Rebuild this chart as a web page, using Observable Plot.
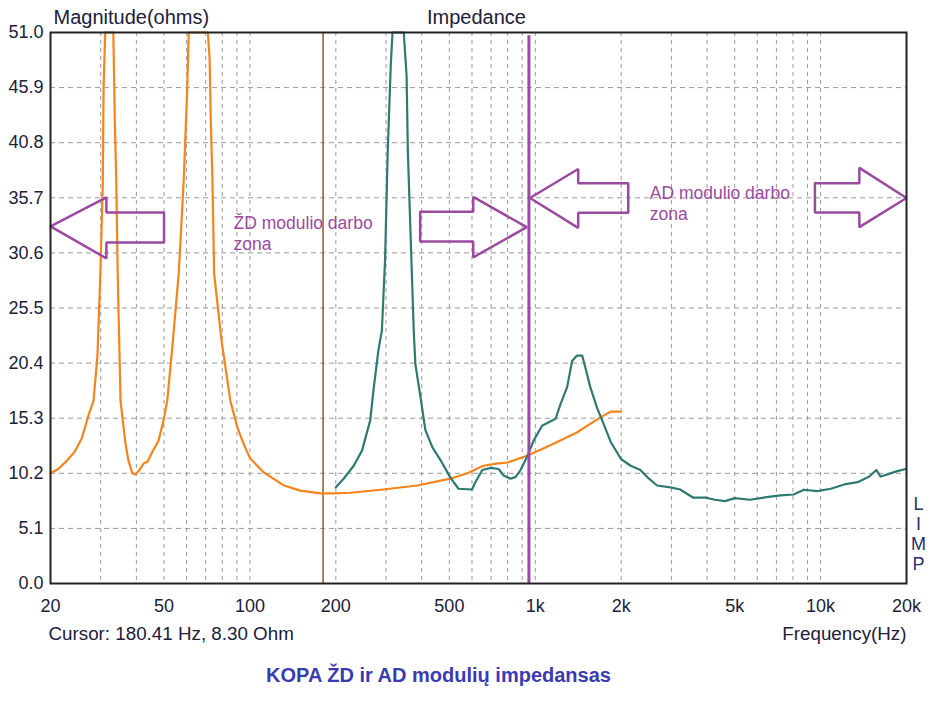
<!DOCTYPE html>
<html><head><meta charset="utf-8">
<script src="https://cdn.jsdelivr.net/npm/d3@7"></script>
<script src="https://cdn.jsdelivr.net/npm/@observablehq/plot@0.6"></script>
<style>body{margin:0;background:#fff;}</style>
</head><body><div id="chart"></div>
<script>
// ŽD module impedance (orange), frequency in Hz and magnitude in ohms (51 = clipped at top)
const zdFreq = [20, 21.3, 22.9, 24.3, 25.8, 27.2, 28.3, 29.2, 29.9, 30.5, 30.7, 31.1,
  33.2, 33.6, 34.0, 34.4, 35.2, 36.6, 37.5, 38.7, 39.7, 41.0, 42.4, 43.8, 45.5, 47.8, 49.8, 51.3,
  53.5, 56.3, 58.6, 60.3, 61.0,
  71.2, 72.2, 72.9, 73.9, 74.9, 79.5, 85.4, 90.2, 94.8, 100, 111.6, 131, 150, 176.6, 196, 225,
  293, 386, 504, 578, 658, 730, 802, 940, 1130, 1404, 1696, 1838, 2000];
const zdOhm = [10.2, 10.6, 11.4, 12.2, 13.5, 15.6, 16.9, 21.0, 28.7, 37.0, 45.9, 51,
  51, 43, 37.3, 28.7, 16.9, 13.0, 11.4, 10.2, 10.1, 10.5, 11.1, 11.3, 12.2, 13.2, 15.1, 16.9,
  22.0, 28.7, 37.3, 45.9, 51,
  51, 48.7, 42.9, 37.3, 28.7, 22.5, 16.9, 14.5, 13.0, 11.6, 10.3, 9.1, 8.6, 8.35, 8.35, 8.4,
  8.7, 9.07, 9.7, 10.2, 10.9, 11.1, 11.2, 11.85, 12.8, 14.0, 15.4, 15.9, 15.9];

// AD module impedance (teal)
const adFreq = [200, 213, 231, 247, 264, 271, 282, 290, 297.6, 304, 311.6, 316,
  346, 354, 357.6, 375, 380, 396, 412, 436, 466, 504, 538, 600, 617, 652, 698, 744, 774, 818, 852, 888,
  935, 986, 1056, 1178, 1226, 1294, 1346, 1400, 1460, 1498, 1558, 1644, 1734, 1838, 2000, 2160, 2336,
  2468, 2672, 2976, 3220, 3580, 3980, 4260, 4620, 5000, 5640, 6460, 7240, 8040, 8740, 9740, 10860,
  12100, 13480, 14820, 15680, 16240, 17140, 18560, 19880];
const adOhm = [8.9, 9.7, 10.9, 12.3, 15.1, 17.9, 21.6, 23.4, 30, 40, 48, 51,
  51, 47, 40, 23.4, 20.3, 17.25, 14.2, 12.6, 11.4, 9.8, 8.77, 8.7, 9.4, 10.5, 10.7, 10.6, 10.0, 9.7, 9.85, 10.5,
  11.7, 13.2, 14.6, 15.25, 16.6, 18.2, 20.6, 21.1, 21.1, 20.0, 18.2, 16.3, 14.8, 13.1, 11.5, 10.9, 10.5,
  9.85, 9.07, 8.9, 8.7, 7.94, 7.94, 7.75, 7.62, 7.9, 7.75, 7.99, 8.15, 8.24, 8.68, 8.55, 8.77,
  9.17, 9.38, 9.9, 10.5, 9.9, 10.1, 10.4, 10.6];

// Axis ticks and grid
const xTicks = [20, 50, 100, 200, 500, 1000, 2000, 5000, 10000, 20000];
const xTickLabels = ["20", "50", "100", "200", "500", "1k", "2k", "5k", "10k", "20k"];
const yTicks = [0, 5.1, 10.2, 15.3, 20.4, 25.5, 30.6, 35.7, 40.8, 45.9, 51.0];
const gridX = [30, 40, 50, 60, 70, 80, 90, 100, 200, 300, 400, 500, 600, 700, 800, 900, 1000,
  2000, 3000, 4000, 5000, 6000, 7000, 8000, 9000, 10000];
const gridY = [5.1, 10.2, 15.3, 20.4, 25.5, 30.6, 35.7, 40.8, 45.9];

// Markers
const cursorFreq = 180.41;
const splitFreq = 950;

// Zone arrows (frequency Hz, ohms)
const arrowZdLeft = [[20, 33.06], [31.4, 35.74], [31.4, 34.35], [50, 34.35], [50, 31.57], [31.4, 31.57], [31.4, 30.09], [20, 33.06]];
const arrowZdRight = [[395, 34.41], [606, 34.41], [606, 35.78], [934, 32.98], [606, 30.19], [606, 31.65], [395, 31.65], [395, 34.41]];
const arrowAdLeft = [[958, 35.68], [1414, 38.37], [1414, 37.05], [2118, 37.05], [2118, 34.31], [1414, 34.31], [1414, 32.92], [958, 35.68]];
const arrowAdRight = [[9552, 37.04], [13670, 37.04], [13670, 38.47], [20000, 35.68], [13670, 32.98], [13670, 34.35], [9552, 34.35], [9552, 37.04]];

// Texts
const zoneLabels = [
  {f: 87.6, z: 32.45, text: "ŽD modulio darbo\nzona"},
  {f: 2520, z: 35.23, text: "AD modulio darbo\nzona"}
];
const titleLeft = "Magnitude(ohms)";
const titleCenter = "Impedance";
const cursorText = "Cursor: 180.41 Hz, 8.30 Ohm";
const xLabel = "Frequency(Hz)";
const sideLabel = "L\nI\nM\nP";
const caption = "KOPA ŽD ir AD modulių impedansas";

const zd = zdFreq.map((f, i) => ({f, z: zdOhm[i]}));
const ad = adFreq.map((f, i) => ({f, z: adOhm[i]}));
const xLabelRows = xTicks.map((t, i) => ({f: t, label: xTickLabels[i]}));

const ink = "#20203a";
const purple = "#9b4aa0";
const arrowOpts = {x: d => d[0], y: d => d[1], stroke: purple, strokeWidth: 2.5, strokeLinejoin: "miter"};

const chart = Plot.plot({
  width: 937, height: 714,
  marginTop: 32, marginLeft: 50, marginRight: 31, marginBottom: 131,
  x: {type: "log", domain: [20, 20000], axis: null},
  y: {domain: [0, 51], axis: null},
  style: {fontFamily: "'Liberation Sans', Arial, sans-serif", fontSize: "18px", color: ink, background: "#fff"},
  marks: [
    Plot.ruleX(gridX, {stroke: "#9a9a9a", strokeDasharray: "4,4", strokeWidth: 1}),
    Plot.ruleY(gridY, {stroke: "#9a9a9a", strokeDasharray: "5,4", strokeWidth: 1}),
    Plot.text(xLabelRows, {x: "f", text: "label", frameAnchor: "bottom", lineAnchor: "middle", dy: 23, fontSize: 18, fill: ink}),
    Plot.text(yTicks, {y: d => d, text: d => d.toFixed(1), frameAnchor: "left", textAnchor: "end", lineAnchor: "middle", dx: -7, fontSize: 18, fill: ink}),
    Plot.ruleX([cursorFreq], {stroke: "#8f5a2c", strokeWidth: 1.5}),
    Plot.line(zd, {x: "f", y: "z", stroke: "#f5841d", strokeWidth: 2.2}),
    Plot.line(ad, {x: "f", y: "z", stroke: "#2e7a72", strokeWidth: 2.2}),
    Plot.ruleX([splitFreq], {y1: 0, y2: 50.7, stroke: purple, strokeWidth: 3}),
    Plot.line(arrowZdLeft, arrowOpts),
    Plot.line(arrowZdRight, arrowOpts),
    Plot.line(arrowAdLeft, arrowOpts),
    Plot.line(arrowAdRight, arrowOpts),
    Plot.text(zoneLabels, {x: "f", y: "z", text: "text", textAnchor: "start", lineAnchor: "middle", lineHeight: 1.2, fontSize: 17.5, fill: purple}),
    Plot.frame({stroke: "#222", strokeWidth: 2}),
    Plot.text([titleLeft], {text: d => d, frameAnchor: "top-left", textAnchor: "start", lineAnchor: "middle", dx: 3, dy: -15, fontSize: 20, fill: ink}),
    Plot.text([titleCenter], {text: d => d, frameAnchor: "top", lineAnchor: "middle", dx: -2, dy: -15, fontSize: 20, fill: ink}),
    Plot.text([cursorText], {text: d => d, frameAnchor: "bottom-left", textAnchor: "start", lineAnchor: "middle", dx: -2, dy: 50, fontSize: 18.8, fill: ink}),
    Plot.text([xLabel], {text: d => d, frameAnchor: "bottom-right", textAnchor: "end", lineAnchor: "middle", dx: 0, dy: 50, fontSize: 18.8, fill: ink}),
    Plot.text([sideLabel], {text: d => d, frameAnchor: "bottom-right", textAnchor: "middle", lineAnchor: "middle", dx: 12, dy: -50, lineHeight: 1.1, fontSize: 18, fill: "#2a2a70"}),
    Plot.text([caption], {text: d => d, frameAnchor: "bottom", lineAnchor: "middle", dx: -40, dy: 92, fontSize: 20, fontWeight: "bold", fill: "#3b3bb0"})
  ]
});
document.getElementById("chart").appendChild(chart);
</script></body></html>
